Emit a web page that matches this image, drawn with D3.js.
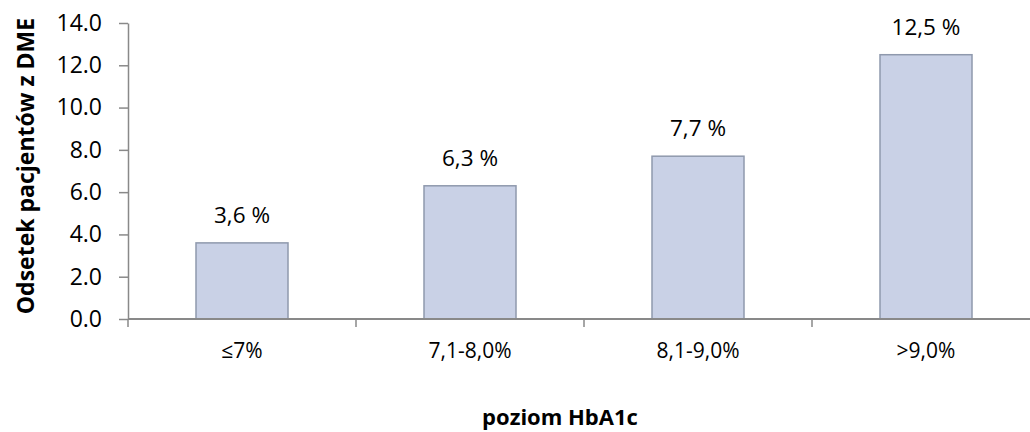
<!DOCTYPE html>
<html><head><meta charset="utf-8">
<script src="https://cdn.jsdelivr.net/npm/d3@7"></script>
<style>body{margin:0;background:#fff}svg{display:block}text{font-family:"Open Sans",sans-serif;fill:#000}</style>
</head><body><svg id="c" width="1030" height="432"></svg>
<script>
const categories = ["≤7%", "7,1-8,0%", "8,1-9,0%", ">9,0%"];
const values = [3.6, 6.3, 7.7, 12.5];
const valueLabels = ["3,6 %", "6,3 %", "7,7 %", "12,5 %"];
const yTicks = [0, 2, 4, 6, 8, 10, 12, 14];
const yTitle = "Odsetek pacjentów z DME";
const xTitle = "poziom HbA1c";

(function () {
const svg = d3.select("#c");
const mLeft = 128, mTop = 23, mBottom = 319, bandW = 228;
const x = d3.scaleBand().domain(categories).range([mLeft, mLeft + bandW * categories.length]).paddingInner(0).paddingOuter(0);
const y = d3.scaleLinear().domain([0, 14]).range([mBottom, mTop]);
const barW = 92;
const axisColor = "#898989";

// bars
svg.selectAll("rect.bar").data(values).enter().append("rect")
  .attr("x", (d, i) => x(categories[i]) + x.bandwidth() / 2 - barW / 2)
  .attr("y", d => y(d))
  .attr("width", barW)
  .attr("height", d => y(0) - y(d))
  .attr("fill", "#c9d1e6")
  .attr("stroke", "#8f99ad")
  .attr("stroke-width", 1.5);

// y axis
const yAxis = d3.axisLeft(y).tickValues(yTicks).tickFormat(d3.format(".1f")).tickSize(9).tickSizeOuter(0).tickPadding(17);
const gy = svg.append("g").attr("transform", `translate(${mLeft},0)`).call(yAxis);
gy.attr("font-family", null).attr("font-size", null);
gy.select(".domain").attr("stroke", axisColor).attr("stroke-width", 1.5);
gy.selectAll(".tick line").attr("stroke", axisColor).attr("stroke-width", 1.5);
gy.selectAll(".tick text").style("font-size", "23px").attr("fill", "#000");

// x axis
const gx = svg.append("g").attr("transform", `translate(0,${mBottom})`);
gx.append("line").attr("x1", mLeft).attr("x2", 1030).attr("y1", 0).attr("y2", 0).attr("stroke", axisColor).attr("stroke-width", 2);
const boundaries = categories.map(c => x(c));
gx.selectAll("line.tk").data(boundaries).enter().append("line")
  .attr("x1", d => d).attr("x2", d => d).attr("y1", 0).attr("y2", 8)
  .attr("stroke", axisColor).attr("stroke-width", 1.5);
gx.selectAll("text.cat").data(categories).enter().append("text")
  .attr("x", d => x(d) + x.bandwidth() / 2).attr("y", 39)
  .attr("text-anchor", "middle").style("font-size", "21px").text(d => d);

// data labels
svg.selectAll("text.lbl").data(values).enter().append("text")
  .attr("x", (d, i) => x(categories[i]) + x.bandwidth() / 2)
  .attr("y", d => y(d) - 20)
  .attr("text-anchor", "middle").style("font-size", "22.5px")
  .text((d, i) => valueLabels[i]);

// titles
svg.append("text").attr("transform", `translate(34,166) rotate(-90)`)
  .attr("text-anchor", "middle").style("font-size", "23px").style("font-weight", "bold").text(yTitle);
svg.append("text").attr("x", 560).attr("y", 425)
  .attr("text-anchor", "middle").style("font-size", "22px").style("font-weight", "bold").text(xTitle);
})();
</script></body></html>
